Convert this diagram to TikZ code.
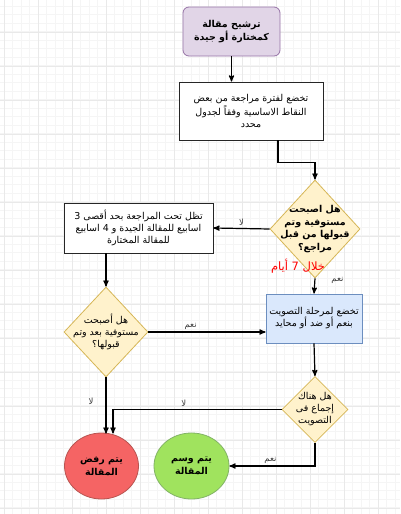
\documentclass[tikz,border=0pt]{standalone}
\usepackage{fontspec}
\newfontfamily\arabicfont[Script=Arabic]{DejaVu Sans}
\TeXXeTstate=1
\usetikzlibrary{shapes,arrows}
\newcommand{\rl}[1]{\beginR #1\endR}

\definecolor{startfill}{HTML}{E1D5E7}
\definecolor{startline}{HTML}{9673A6}
\definecolor{decfill}{HTML}{FFF2CC}
\definecolor{decline}{HTML}{D6B656}
\definecolor{votefill}{HTML}{DAE8FC}
\definecolor{voteline}{HTML}{6C8EBF}
\definecolor{rejfill}{HTML}{F56464}
\definecolor{rejline}{HTML}{B85450}
\definecolor{accfill}{HTML}{A0E35E}
\definecolor{accline}{HTML}{82B366}
\definecolor{gridminor}{HTML}{F5F5F5}
\definecolor{gridmajor}{HTML}{E9E9E9}

\begin{document}
\begin{tikzpicture}[->,>=stealth',x=1pt,y=-1pt,line width=1.2pt,
    txt/.style={font=\arabicfont\fontsize{9.5}{12}\selectfont,align=center},
    bold/.style={font=\arabicfont\bfseries\fontsize{9.5}{12.5}\selectfont,align=center},
    lbl/.style={font=\arabicfont\fontsize{8.5}{9}\selectfont,text=black!75,inner sep=2pt},
    startbox/.style={rectangle,rounded corners=6pt,draw=startline,fill=startfill,
                     line width=0.8pt,minimum width=97pt,minimum height=49pt},
    plainbox/.style={rectangle,draw=black!85,fill=white,line width=0.8pt},
    votebox/.style={rectangle,draw=voteline,fill=votefill,line width=0.8pt,
                    minimum width=96pt,minimum height=49pt},
    decision/.style={diamond,draw=decline,fill=decfill,line width=0.8pt,inner sep=0pt},
    endstate/.style={ellipse,line width=0.8pt,minimum width=75pt,minimum height=66pt}]

  \useasboundingbox (0,0) rectangle (400,514);
  % background grid
  \begin{scope}[-,line width=0.5pt]
    \clip (0,0) rectangle (400,514);
    \fill[white] (0,0) rectangle (400,514);
    \foreach \i in {0,...,46} \draw[gridminor] (4+8.5*\i,0) -- (4+8.5*\i,514);
    \foreach \i in {0,...,59} \draw[gridminor] (0,6+8.5*\i) -- (400,6+8.5*\i);
    \foreach \i in {0,...,11} \draw[gridmajor] (4+34*\i,0) -- (4+34*\i,514);
    \foreach \i in {0,...,14} \draw[gridmajor] (0,32+34*\i) -- (400,32+34*\i);
  \end{scope}

  \node[startbox,bold] (start)  at (231.5,31.5) {\rl{ترشيح مقالة}\\\rl{كمختارة أو جيدة}};
  \node[plainbox,txt,minimum width=144pt,minimum height=58pt] (review) at (251,111)
       {\rl{تخضع لفترة مراجعة من بعض}\\\rl{النقاط الاساسية وفقاً لجدول}\\\rl{محدد}};
  \node[decision,minimum width=90pt,minimum height=98pt] (q1) at (315,229) {};
  \node[bold] (q1t) at (q1) {\rl{هل اصبحت}\\\rl{مستوفية وتم}\\\rl{قبولها من قبل}\\\rl{مراجع؟}};
  \node[font=\arabicfont\fontsize{11.5}{12}\selectfont,text=red] (days) at (298,266) {\rl{خلال 7 أيام}};
  \node[plainbox,txt,minimum width=149pt,minimum height=50pt] (wait) at (138.5,228)
       {\rl{تظل تحت المراجعة بحد أقصى 3}\\\rl{اسابيع للمقالة الجيدة و 4 اسابيع}\\\rl{للمقالة المختارة}};
  \node[decision,minimum width=84pt,minimum height=90pt] (q2) at (106,332) {};
  \node[txt] (q2t) at (q2) {\rl{هل أصبحت}\\\rl{مستوفية بعد وتم}\\\rl{قبولها؟}};
  \node[votebox,txt] (vote) at (314,318.5) {\rl{تخضع لمرحلة التصويت}\\\rl{بنعم أو ضد أو محايد}};
  \node[decision,minimum width=66pt,minimum height=66pt] (q3) at (315,409.5) {};
  \node[txt] (q3t) at (q3) {\rl{هل هناك}\\\rl{إجماع فى}\\\rl{التصويت}};
  \node[endstate,bold,draw=rejline,fill=rejfill,minimum width=74pt] (reject) at (101.5,466) {\rl{يتم رفض}\\\rl{المقالة}};
  \node[endstate,bold,draw=accline,fill=accfill] (accept) at (191.5,466) {\rl{يتم وسم}\\\rl{المقالة}};

  \path (start) edge (start |- review.north)
        (q1.west) edge node[lbl,above] {\rl{لا}} (wait.east)
        (q1.south) edge node[lbl,right=14pt,pos=0.15] {\rl{نعم}} (vote.north)
        (wait.south -| q2.north) edge (q2.north)
        (q2.east) edge node[lbl,above,pos=0.36] {\rl{نعم}} (q2.east -| vote.west)
        (vote.south) edge (q3.north)
        (q2.south) edge node[lbl,left=10pt,pos=0.42] {\rl{لا}} ([yshift=-1pt]q2.south |- reject.north);
  \draw ([xshift=27pt]review.south) |- ([yshift=17pt]q1.north) -- (q1.north);
  \draw (q3.west) -| node[lbl,above,pos=0.29] {\rl{لا}} ([xshift=11.5pt,yshift=-1pt]reject.north);
  \draw (q3.south) |- node[lbl,above,pos=0.76] {\rl{نعم}} (accept.east);
\end{tikzpicture}
\end{document}
